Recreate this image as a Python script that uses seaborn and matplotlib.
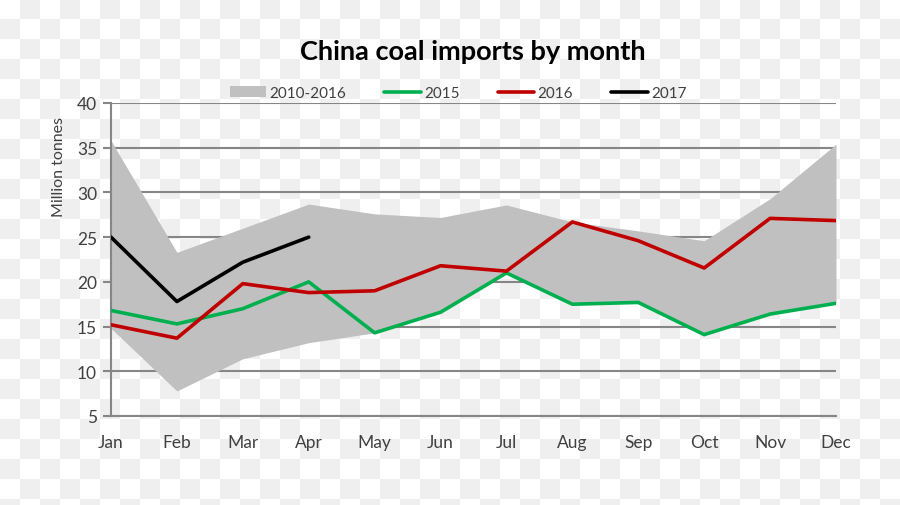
import numpy as np
import pandas as pd
import matplotlib
matplotlib.use("Agg")
import matplotlib.pyplot as plt
from matplotlib.patches import Patch
from matplotlib.lines import Line2D
import seaborn as sns

# ---- data ----
months = ["Jan", "Feb", "Mar", "Apr", "May", "Jun",
          "Jul", "Aug", "Sep", "Oct", "Nov", "Dec"]
band_low = [14.8, 7.8, 11.4, 13.2, 14.3, 16.6, 21.0, 17.5, 17.7, 14.1, 16.4, 17.6]
band_high = [35.8, 23.3, 26.0, 28.7, 27.6, 27.2, 28.6, 26.7, 25.7, 24.6, 29.3, 35.4]
y2015 = [16.8, 15.3, 17.0, 20.0, 14.3, 16.6, 21.0, 17.5, 17.7, 14.1, 16.4, 17.6]
y2016 = [15.2, 13.7, 19.8, 18.8, 19.0, 21.8, 21.2, 26.7, 24.6, 21.55, 27.1, 26.85]
y2017 = [25.0, 17.8, 22.2, 25.0]
y_ticks = [5, 10, 15, 20, 25, 30, 35, 40]

series = {"2015": y2015, "2016": y2016, "2017": y2017}
colors = {"2015": "#00b050", "2016": "#c00000", "2017": "#000000"}
band_color = "#c0c0c0"
grid_color = "#868686"
text_color = "#404040"

rows = []
for name, vals in series.items():
    for i, v in enumerate(vals):
        rows.append({"month": i, "value": v, "series": name})
df = pd.DataFrame(rows)

sns.set_style("white")
plt.rcParams["font.family"] = ["Lato", "DejaVu Sans"]

W, H = 900, 506
fig = plt.figure(figsize=(W / 100, H / 100), dpi=100)
fig.patch.set_alpha(0)

# checkerboard background (as in the reference picture)
yy, xx = np.mgrid[0:H, 0:W]
mask = ((xx // 20 + yy // 20) % 2) == 1
img = np.ones((H, W, 3))
img[mask] = 0xEF / 255
fig.figimage(img, 0, 0, origin="upper", zorder=-10)

ax = fig.add_axes([111 / W, 89 / H, 725 / W, 313 / H])
ax.set_facecolor("none")

x = np.arange(len(months))
ax.fill_between(x, band_low, band_high, color=band_color, lw=0, zorder=1)

sns.lineplot(data=df, x="month", y="value", hue="series", palette=colors,
             linewidth=2.6, legend=False, ax=ax, zorder=3)

ax.set_xlim(0, len(months) - 1)
ax.set_ylim(5, 40)
ax.set_xticks(x)
ax.set_xticklabels(months)
ax.set_yticks(y_ticks)
ax.set_yticklabels([str(t) for t in y_ticks])
ax.set_xlabel("")
ax.set_ylabel("")

ax.set_axisbelow(True)
ax.yaxis.grid(True, color=grid_color, lw=1.5)
ax.xaxis.grid(False)
for s in ["top", "right"]:
    ax.spines[s].set_visible(False)
for s in ["left", "bottom"]:
    ax.spines[s].set_color(grid_color)
    ax.spines[s].set_linewidth(1.5)

ax.tick_params(axis="y", length=6, width=1.5, color=grid_color, direction="out",
               labelsize=12.5, labelcolor=text_color, pad=4, left=True)
ax.tick_params(axis="x", length=0, labelsize=12.5, labelcolor=text_color, pad=13)

fig.text(473 / W, 1 - 52 / H, "China coal imports by month", ha="center",
         va="center", fontsize=19.5, fontweight="bold", color="black")
fig.text(59 / W, 1 - 167 / H, "Million tonnes", rotation=90, ha="center",
         va="center", fontsize=11.5, color=text_color)

handles = [Patch(facecolor=band_color, edgecolor="none"),
           Line2D([], [], color=colors["2015"], lw=2.6),
           Line2D([], [], color=colors["2016"], lw=2.6),
           Line2D([], [], color=colors["2017"], lw=2.6)]
labels = ["2010-2016", "2015", "2016", "2017"]
leg = fig.legend(handles, labels, loc="center", bbox_to_anchor=(458 / W, 1 - 94 / H),
                 ncol=4, frameon=False, fontsize=11, handlelength=2.4,
                 handletextpad=0.2, columnspacing=2.5, handleheight=0.7)
for t in leg.get_texts():
    t.set_color(text_color)

fig.savefig("out.png", dpi=100)
